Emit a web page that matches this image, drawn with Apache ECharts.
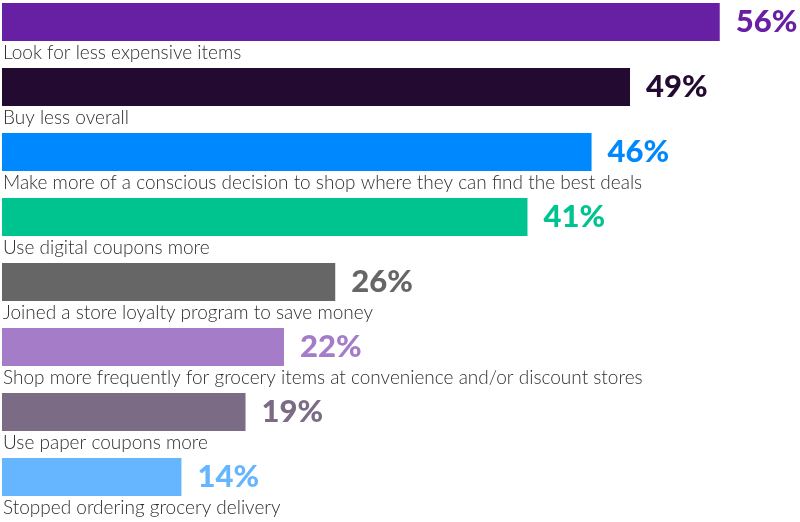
<!DOCTYPE html>
<html>
<head>
<meta charset="utf-8">
<script src="https://cdn.jsdelivr.net/npm/echarts@6/dist/echarts.min.js"></script>
<style>
  html, body { margin: 0; padding: 0; background: #ffffff; }
  #chart { width: 800px; height: 522px; }
</style>
</head>
<body>
<div id="chart"></div>
<script>
// Shopping behaviour changes, share of respondents (%)
const categories = [
  'Look for less expensive items',
  'Buy less overall',
  'Make more of a conscious decision to shop where they can find the best deals',
  'Use digital coupons more',
  'Joined a store loyalty program to save money',
  'Shop more frequently for grocery items at convenience and/or discount stores',
  'Use paper coupons more',
  'Stopped ordering grocery delivery'
];
const values = [56, 49, 46, 41, 26, 22, 19, 14];
const barColors = ['#671fa3', '#230a30', '#0088ff', '#00c48f', '#666666', '#a47cc8', '#7b6b85', '#66b5ff'];

const chart = echarts.init(document.getElementById('chart'), null, { renderer: 'canvas' });

const fontFamily = 'Lato, "Open Sans", sans-serif';

chart.setOption({
  animation: false,
  grid: { left: 2, top: 22, width: 769, height: 455, containLabel: false },
  xAxis: {
    type: 'value', min: 0, max: 60,
    show: false
  },
  yAxis: {
    type: 'category',
    data: categories,
    inverse: true,
    boundaryGap: false,
    show: false
  },
  series: [
    {
      type: 'bar',
      barWidth: 38,
      data: values.map((v, i) => ({ value: v, itemStyle: { color: barColors[i] } })),
      label: {
        show: true,
        position: 'right',
        distance: 16,
        fontFamily: fontFamily,
        fontWeight: 900,
        fontSize: 31,
        formatter: p => p.value + '%',
        color: 'inherit'
      }
    },
    {
      // category names under each bar
      type: 'bar',
      barWidth: 38,
      barGap: '-100%',
      silent: true,
      itemStyle: { color: 'rgba(0,0,0,0)' },
      data: values,
      label: {
        show: true,
        position: [1, 40],
        align: 'left',
        verticalAlign: 'top',
        fontFamily: fontFamily,
        fontWeight: 300,
        fontSize: 19,
        color: '#2e2e2e',
        formatter: p => categories[p.dataIndex]
      }
    }
  ]
});
</script>
</body>
</html>
